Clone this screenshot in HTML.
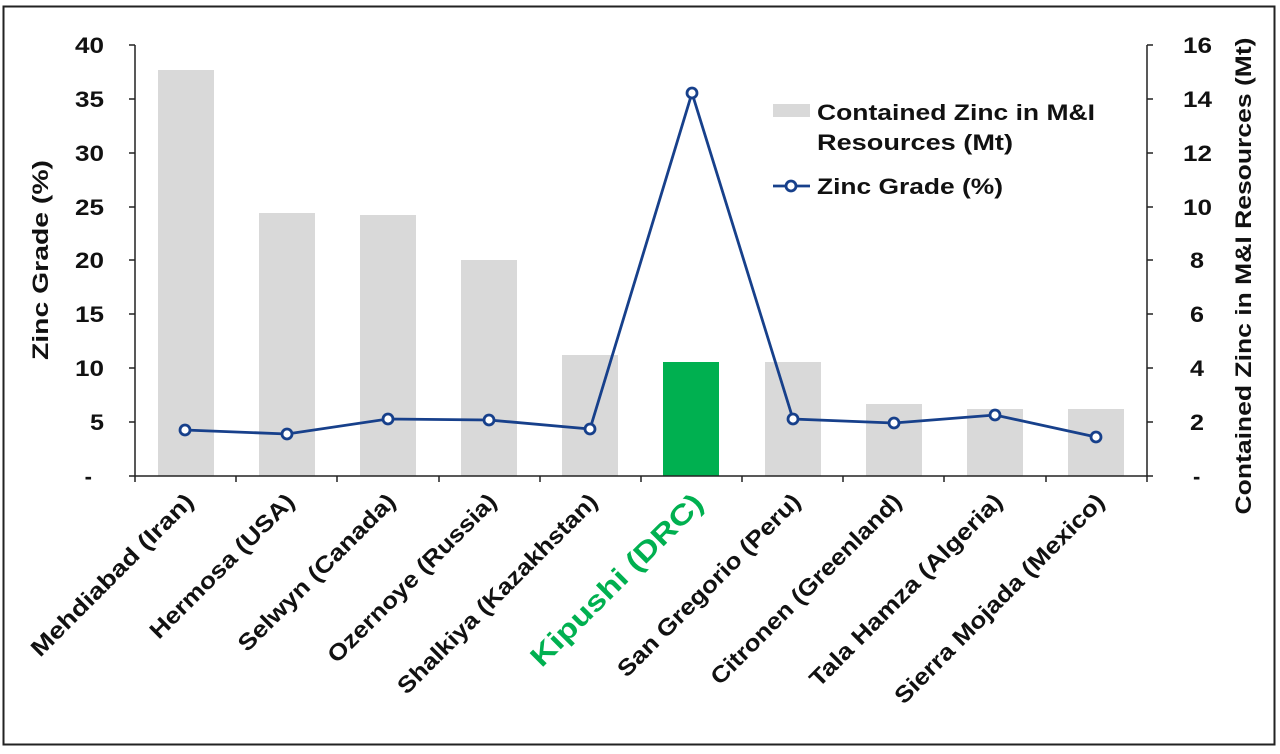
<!DOCTYPE html>
<html><head><meta charset="utf-8"><style>
html,body{margin:0;padding:0;background:#fff;}
svg{display:block;font-family:"Liberation Sans",Arial,sans-serif;font-weight:bold;}
</style></head><body>
<svg width="1280" height="754" viewBox="0 0 1280 754" xmlns="http://www.w3.org/2000/svg">
<rect x="0" y="0" width="1280" height="754" fill="#fff"/>
<rect x="3.5" y="6.5" width="1271" height="738" fill="#fff" stroke="#222" stroke-width="2"/>
<g fill="#d9d9d9">
<rect x="158" y="70" width="56" height="406"/>
<rect x="259" y="213" width="56" height="263"/>
<rect x="360" y="215" width="56" height="261"/>
<rect x="461" y="260" width="56" height="216"/>
<rect x="562" y="355" width="56" height="121"/>
<rect x="765" y="362" width="56" height="114"/>
<rect x="866" y="404" width="56" height="72"/>
<rect x="967" y="409" width="56" height="67"/>
<rect x="1068" y="409" width="56" height="67"/>
</g>
<rect x="663" y="362" width="56" height="114" fill="#00b050"/>
<g stroke="#222" stroke-width="1.5" fill="none">
<line x1="135" y1="45" x2="135" y2="482"/>
<line x1="1147" y1="45" x2="1147" y2="482"/>
<line x1="129" y1="476" x2="1153" y2="476"/>
<path d="M129 45H135M129 99H135M129 153H135M129 207H135M129 260H135M129 314H135M129 368H135M129 422H135"/>
<path d="M1147 45H1153M1147 99H1153M1147 153H1153M1147 207H1153M1147 260H1153M1147 314H1153M1147 368H1153M1147 422H1153"/>
<path d="M236 476V482M337 476V482M439 476V482M540 476V482M641 476V482M742 476V482M843 476V482M944 476V482M1046 476V482"/>
</g>
<g font-size="22" text-anchor="end" fill="#111">
<text x="104" y="53" textLength="29" lengthAdjust="spacingAndGlyphs">40</text><text x="104" y="107" textLength="29" lengthAdjust="spacingAndGlyphs">35</text><text x="104" y="161" textLength="29" lengthAdjust="spacingAndGlyphs">30</text><text x="104" y="215" textLength="29" lengthAdjust="spacingAndGlyphs">25</text><text x="104" y="268" textLength="29" lengthAdjust="spacingAndGlyphs">20</text><text x="104" y="322" textLength="29" lengthAdjust="spacingAndGlyphs">15</text><text x="104" y="376" textLength="29" lengthAdjust="spacingAndGlyphs">10</text><text x="104" y="430" textLength="14" lengthAdjust="spacingAndGlyphs">5</text><text x="92" y="484">-</text>
</g>
<g font-size="22" text-anchor="start" fill="#111">
<text x="1183" y="53" textLength="29" lengthAdjust="spacingAndGlyphs">16</text><text x="1183" y="107" textLength="29" lengthAdjust="spacingAndGlyphs">14</text><text x="1183" y="161" textLength="29" lengthAdjust="spacingAndGlyphs">12</text><text x="1183" y="215" textLength="29" lengthAdjust="spacingAndGlyphs">10</text><text x="1190" y="268" textLength="14" lengthAdjust="spacingAndGlyphs">8</text><text x="1190" y="322" textLength="14" lengthAdjust="spacingAndGlyphs">6</text><text x="1190" y="376" textLength="14" lengthAdjust="spacingAndGlyphs">4</text><text x="1190" y="430" textLength="14" lengthAdjust="spacingAndGlyphs">2</text><text x="1193" y="484">-</text>
</g>
<text transform="translate(48,260) rotate(-90)" font-size="22" text-anchor="middle" fill="#111" textLength="200" lengthAdjust="spacingAndGlyphs">Zinc Grade (%)</text>
<text transform="translate(1251,276) rotate(-90)" font-size="22" text-anchor="middle" fill="#111" textLength="477" lengthAdjust="spacingAndGlyphs">Contained Zinc in M&amp;I Resources (Mt)</text>
<polyline points="185,430 287,434 388,419 489,420 590,429 692,93 793,419 894,423 995,415 1096,437" fill="none" stroke="#17408b" stroke-width="2.8"/>
<g fill="#fff" stroke="#17408b" stroke-width="2.8">
<circle cx="185" cy="430" r="5"/><circle cx="287" cy="434" r="5"/><circle cx="388" cy="419" r="5"/><circle cx="489" cy="420" r="5"/><circle cx="590" cy="429" r="5"/><circle cx="692" cy="93" r="5"/><circle cx="793" cy="419" r="5"/><circle cx="894" cy="423" r="5"/><circle cx="995" cy="415" r="5"/><circle cx="1096" cy="437" r="5"/>
</g>
<rect x="773" y="104" width="37" height="13" fill="#d9d9d9"/>
<text x="817" y="120" font-size="22" fill="#111" textLength="278" lengthAdjust="spacingAndGlyphs">Contained Zinc in M&amp;I</text>
<text x="817" y="150" font-size="22" fill="#111" textLength="196" lengthAdjust="spacingAndGlyphs">Resources  (Mt)</text>
<line x1="773" y1="186" x2="810" y2="186" stroke="#17408b" stroke-width="2.8"/>
<circle cx="791" cy="186" r="5" fill="#fff" stroke="#17408b" stroke-width="2.8"/>
<text x="817" y="194" font-size="22" fill="#111" textLength="186" lengthAdjust="spacingAndGlyphs">Zinc Grade  (%)</text>
<g font-size="23" text-anchor="end" fill="#111">
<text transform="translate(195,503) rotate(-45)" textLength="219" lengthAdjust="spacingAndGlyphs">Mehdiabad (Iran)</text>
<text transform="translate(296,503) rotate(-45)" textLength="194" lengthAdjust="spacingAndGlyphs">Hermosa (USA)</text>
<text transform="translate(397,503) rotate(-45)" textLength="212" lengthAdjust="spacingAndGlyphs">Selwyn (Canada)</text>
<text transform="translate(498,503) rotate(-45)" textLength="228" lengthAdjust="spacingAndGlyphs">Ozernoye (Russia)</text>
<text transform="translate(599,503) rotate(-45)" textLength="272" lengthAdjust="spacingAndGlyphs">Shalkiya (Kazakhstan)</text>
<text transform="translate(705,505) rotate(-45)" font-size="28" fill="#00b050" textLength="231" lengthAdjust="spacingAndGlyphs">Kipushi (DRC)</text>
<text transform="translate(802,503) rotate(-45)" textLength="248" lengthAdjust="spacingAndGlyphs">San Gregorio (Peru)</text>
<text transform="translate(903,503) rotate(-45)" textLength="259" lengthAdjust="spacingAndGlyphs">Citronen (Greenland)</text>
<text transform="translate(1004,503) rotate(-45)" textLength="262" lengthAdjust="spacingAndGlyphs">Tala Hamza (Algeria)</text>
<text transform="translate(1106,503) rotate(-45)" textLength="286" lengthAdjust="spacingAndGlyphs">Sierra Mojada (Mexico)</text>
</g>
</svg>
</body></html>
